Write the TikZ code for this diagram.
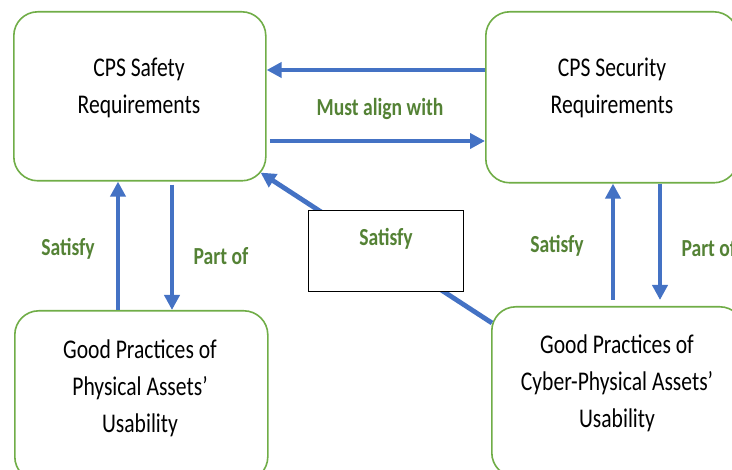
\documentclass[tikz,border=0pt]{standalone}
\usepackage{fontspec}
\setmainfont[FakeStretch=0.8]{Carlito}
\usetikzlibrary{arrows.meta}
\definecolor{boxgreen}{HTML}{70AD47}
\definecolor{lblgreen}{HTML}{548235}
\definecolor{arrblue}{HTML}{4472C4}

\begin{document}
\begin{tikzpicture}[x=1pt,y=-1pt,
  box/.style={draw=boxgreen, line width=1.6pt, rounded corners=24pt,
    anchor=north west, inner sep=0pt, fill=white},
  boxtext/.style={align=center, font=\fontsize{27}{37}\selectfont, text=black},
  lbl/.style={font=\bfseries\fontsize{24.5}{29}\selectfont, text=lblgreen},
  arr/.style={draw=arrblue, line width=4.8pt, -{Triangle[length=15pt,width=15pt]}},
  note/.style={draw=black, line width=1pt, fill=white, anchor=north west,
    minimum width=155pt, minimum height=81pt, inner sep=0pt}
]
\useasboundingbox (0,0) rectangle (732,470);
\clip (0,0) rectangle (732,470);

% requirement and practice boxes
\node[box, minimum width=252pt, minimum height=169pt] (safety) at (13,11) {};
\node[box, minimum width=252pt, minimum height=171pt] (security) at (485,11) {};
\node[box, minimum width=253pt, minimum height=170pt] (physical) at (14,310) {};
\node[box, minimum width=252pt, minimum height=170pt] (cyber) at (491,306) {};

\node[boxtext] (tsafety) at (139,88) {CPS Safety\\Requirements};
\node[boxtext] (tsecurity) at (612,88) {CPS Security\\Requirements};
\node[boxtext] (tphysical) at (140,388) {Good Practices of\\Physical Assets’\\Usability};
\node[boxtext] (tcyber) at (617,383) {Good Practices of\\Cyber-Physical Assets’\\Usability};

% alignment between safety and security
\draw[arr] (security.west |- 0,70) -- (safety.east |- 0,70);
\draw[arr] ([xshift=3pt]safety.east |- 0,141) -- (security.west |- 0,141);
\node[lbl] (lalign) at (380,109) {Must align with};

% safety side
\draw[arr] (physical.north -| 118,0) -- (safety.south -| 118,0);
\draw[arr] ([yshift=-3pt]safety.south -| 172,0) -- (physical.north -| 172,0);
\node[lbl] (lsat1) at (68,249) {Satisfy};
\node[lbl] (lpart1) at (221,256) {Part of};

% security side
\draw[arr] (613,300) -- (security.south -| 613,0);
\coordinate (downend) at (660,300);
\draw[arr] (security.south -| 660,0) -- (downend);
\node[lbl] (lsat2) at (557,246) {Satisfy};
\node[lbl, anchor=west] (lpart2) at (678,248) {Part of};

% cross link from cyber-physical practices to safety
\draw[arr] ([shift={(1,17)}]cyber.north west) -- ([shift={(-6,-9)}]safety.south east);
\node[note] (satbox) at (308,210) {};
\node[lbl] (lsat3) at (386,239) {Satisfy};
\end{tikzpicture}
\end{document}
